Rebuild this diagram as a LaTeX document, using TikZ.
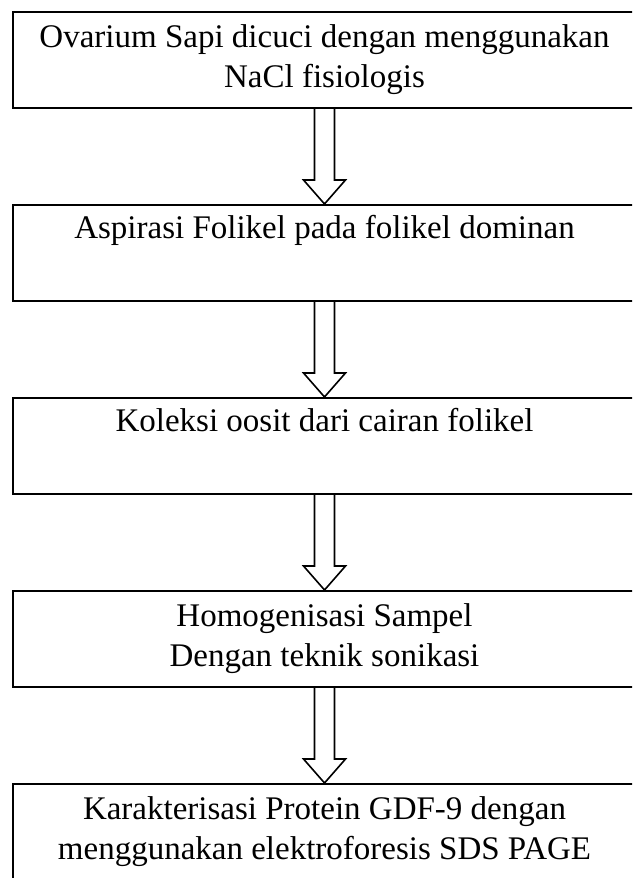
\documentclass[tikz,border=0pt]{standalone}
\usepackage{fontspec}
\setmainfont{Liberation Serif}
\usetikzlibrary{positioning}

\begin{document}
\begin{tikzpicture}[
  stepbox/.style={draw, line width=1pt, minimum width=311.5pt, minimum height=48pt,
    inner sep=0pt, align=center, font=\fontsize{16.5}{20}\selectfont},
  node distance=47.5pt]
  \useasboundingbox (0,0) rectangle (316pt,439pt);
  \clip (0,0) rectangle (316pt,439pt);
  \node[stepbox] (ovarium) at (162.25pt,409pt) {Ovarium Sapi dicuci dengan menggunakan\\NaCl fisiologis};
  \node[stepbox, below=of ovarium] (aspirasi) {Aspirasi Folikel pada folikel dominan\\\strut};
  \node[stepbox, below=of aspirasi] (koleksi) {Koleksi oosit dari cairan folikel\\\strut};
  \node[stepbox, below=of koleksi] (homogen) {Homogenisasi Sampel\\Dengan teknik sonikasi};
  \node[stepbox, below=of homogen] (sds) {Karakterisasi Protein GDF-9 dengan\\menggunakan elektroforesis SDS PAGE};
  % hollow block arrows between the steps
  \foreach \a/\b in {ovarium/aspirasi, aspirasi/koleksi, koleksi/homogen, homogen/sds}
    \draw[line width=0.8pt] ([xshift=-5pt]\a.south) -- ([xshift=-5pt,yshift=12pt]\b.north)
      -- ([xshift=-10.5pt,yshift=12pt]\b.north) -- (\b.north)
      -- ([xshift=10.5pt,yshift=12pt]\b.north) -- ([xshift=5pt,yshift=12pt]\b.north)
      -- ([xshift=5pt]\a.south);
\end{tikzpicture}
\end{document}
